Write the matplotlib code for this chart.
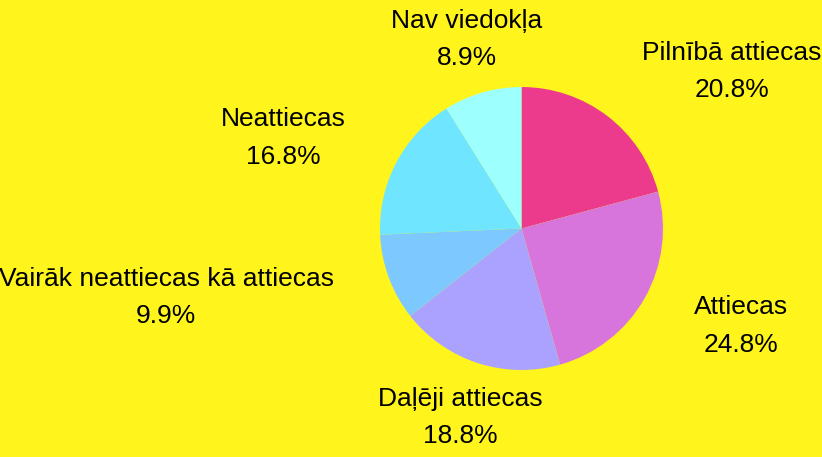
import matplotlib.pyplot as plt

labels = ["Pilnībā attiecas", "Attiecas", "Daļēji attiecas",
          "Vairāk neattiecas kā attiecas", "Neattiecas", "Nav viedokļa"]
values = [20.8, 24.8, 18.8, 9.9, 16.8, 8.9]
colors = ["#EC3B8D", "#D775DC", "#ABA2FF", "#7DC8FF", "#70E5FF", "#9EFFFF"]

# label centres, in pie-radius units from the pie centre
label_pos = [(1.485, 1.11), (1.55, -0.69), (-0.43, -1.335),
             (-2.51, -0.49), (-1.68, 0.64), (-0.385, 1.335)]

bg = "#FFF51C"
fig = plt.figure(figsize=(8.22, 4.57), dpi=100, facecolor=bg)
ax = fig.add_axes([0, 0, 1, 1])
ax.set_facecolor(bg)

ax.pie(values, colors=colors, startangle=90, counterclock=False,
       radius=1.0, center=(0, 0), wedgeprops=dict(linewidth=0))

for lab, val, (x, y) in zip(labels, values, label_pos):
    ax.text(x, y, f"{lab}\n{val:.1f}%", ha="center", va="center",
            fontsize=19, family="Liberation Sans", linespacing=1.7,
            color="black")

r_px = 141.5
cx, cy = 521.5, 228.5
ax.set_xlim(-cx / r_px, (822 - cx) / r_px)
ax.set_ylim(-(457 - cy) / r_px, cy / r_px)
ax.set_aspect("equal")
ax.axis("off")

fig.savefig("out.png", dpi=100, facecolor=bg)
